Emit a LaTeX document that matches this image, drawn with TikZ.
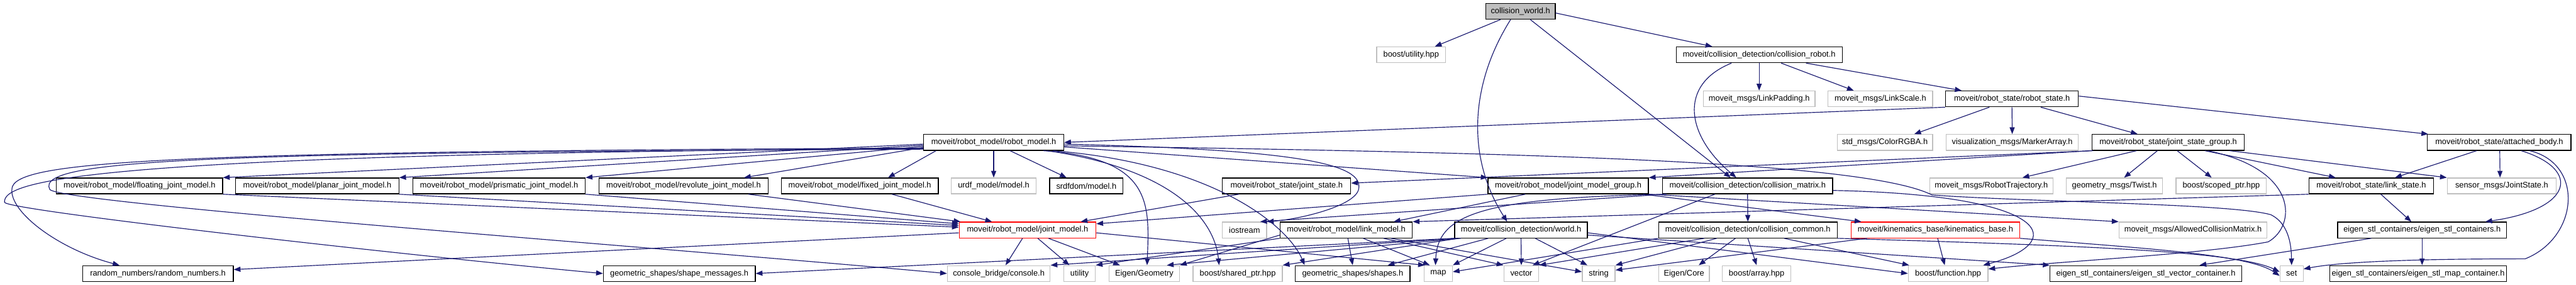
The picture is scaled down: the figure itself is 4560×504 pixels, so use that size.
\documentclass[tikz,border=0pt]{standalone}
\usepackage{fontspec}
\setmainfont{Liberation Sans}
\usetikzlibrary{arrows.meta}
\definecolor{edgeblue}{HTML}{191970}
\definecolor{greyb}{HTML}{BFBFBF}
\begin{document}
\begin{tikzpicture}[x=1pt,y=-1pt,
  nb/.style={draw=black, line width=1.4pt, fill=white, minimum height=28pt, inner sep=0pt, font={\fontsize{14.3}{17}\selectfont}, text=black},
  nx/.style={nb, draw=greyb},
  nred/.style={nb, draw=red},
  nroot/.style={nb, fill=greyb},
  edg/.style={draw=edgeblue, line width=1.3pt, -{Triangle[length=12pt,width=9pt]}}
]
\useasboundingbox (0,0) rectangle (4560,504);
% row 1
\node[nroot, minimum width=123pt] (cw) at (2691.5,20) {collision\_world.h};
% row 2
\node[nx, minimum width=122pt] (bu) at (2498,97) {boost/utility.hpp};
\node[nb, minimum width=294pt] (cr) at (3114,97) {moveit/collision\_detection/collision\_robot.h};
% row 3
\node[nx, minimum width=198pt] (lp) at (3114,175) {moveit\_msgs/LinkPadding.h};
\node[nx, minimum width=185pt] (ls) at (3328.5,175) {moveit\_msgs/LinkScale.h};
\node[nb, minimum width=235pt] (rs) at (3561.5,175) {moveit/robot\_state/robot\_state.h};
% row 4
\node[nb, minimum width=248pt] (rm) at (1759,252) {moveit/robot\_model/robot\_model.h};
\node[nx, minimum width=169pt] (crgba) at (3336.5,252) {std\_msgs/ColorRGBA.h};
\node[nx, minimum width=234pt] (ma) at (3562,252) {visualization\_msgs/MarkerArray.h};
\node[nb, minimum width=270pt] (jsg) at (3838,252) {moveit/robot\_state/joint\_state\_group.h};
\node[nb, minimum width=254pt] (ab) at (4424,252) {moveit/robot\_state/attached\_body.h};
% row 5
\node[nb, minimum width=294pt] (fl) at (247,329) {moveit/robot\_model/floating\_joint\_model.h};
\node[nb, minimum width=289pt] (pl) at (561.5,329) {moveit/robot\_model/planar\_joint\_model.h};
\node[nb, minimum width=305pt] (pr) at (883.5,329) {moveit/robot\_model/prismatic\_joint\_model.h};
\node[nb, minimum width=300pt] (rv) at (1210,329) {moveit/robot\_model/revolute\_joint\_model.h};
\node[nb, minimum width=278pt] (fx) at (1522,329) {moveit/robot\_model/fixed\_joint\_model.h};
\node[nx, minimum width=150pt] (ur) at (1759,329) {urdf\_model/model.h};
\node[nb, minimum width=130pt] (sr) at (1923,329) {srdfdom/model.h};
\node[nb, minimum width=227pt] (js) at (2277.5,329) {moveit/robot\_state/joint\_state.h};
\node[nb, minimum width=284pt] (jmg) at (2776,329) {moveit/robot\_model/joint\_model\_group.h};
\node[nb, minimum width=301pt] (cm) at (3093.5,329) {moveit/collision\_detection/collision\_matrix.h};
\node[nx, minimum width=218pt] (rt) at (3525,329) {moveit\_msgs/RobotTrajectory.h};
\node[nx, minimum width=170pt] (tw) at (3743,329) {geometry\_msgs/Twist.h};
\node[nx, minimum width=160pt] (sp) at (3932,329) {boost/scoped\_ptr.hpp};
\node[nb, minimum width=221pt] (lst) at (4197.5,329) {moveit/robot\_state/link\_state.h};
\node[nx, minimum width=193pt] (jst) at (4428.5,329) {sensor\_msgs/JointState.h};
% row 6
\node[nred, minimum width=242pt] (jm) at (1819,407) {moveit/robot\_model/joint\_model.h};
\node[nx, minimum width=78pt] (io) at (2203,407) {iostream};
\node[nb, minimum width=234pt] (lm) at (2383,407) {moveit/robot\_model/link\_model.h};
\node[nb, minimum width=235pt] (wd) at (2692.5,407) {moveit/collision\_detection/world.h};
\node[nb, minimum width=316pt] (cc) at (3094,407) {moveit/collision\_detection/collision\_common.h};
\node[nred, minimum width=298pt] (kb) at (3426,407) {moveit/kinematics\_base/kinematics\_base.h};
\node[nx, minimum width=262pt] (acm) at (3882,407) {moveit\_msgs/AllowedCollisionMatrix.h};
\node[nb, minimum width=299pt] (esc) at (4287.5,407) {eigen\_stl\_containers/eigen\_stl\_containers.h};
% row 7
\node[nb, minimum width=267pt] (rn) at (279.5,484) {random\_numbers/random\_numbers.h};
\node[nb, minimum width=269pt] (sm) at (1202.5,484) {geometric\_shapes/shape\_messages.h};
\node[nx, minimum width=182pt] (con) at (1768,484) {console\_bridge/console.h};
\node[nx, minimum width=56pt] (ut) at (1911,484) {utility};
\node[nx, minimum width=125pt] (eg) at (2025.5,484) {Eigen/Geometry};
\node[nx, minimum width=158pt] (shp) at (2191,484) {boost/shared\_ptr.hpp};
\node[nb, minimum width=203pt] (sh) at (2394.5,484) {geometric\_shapes/shapes.h};
\node[nx, minimum width=50pt] (mp) at (2546,484) {map};
\node[nx, minimum width=62pt] (vc) at (2693,484) {vector};
\node[nx, minimum width=58pt] (st) at (2830,484) {string};
\node[nx, minimum width=90pt] (ec) at (2981,484) {Eigen/Core};
\node[nx, minimum width=121pt] (ba) at (3109.5,484) {boost/array.hpp};
\node[nx, minimum width=141pt] (fn) at (3448.5,484) {boost/function.hpp};
\node[nb, minimum width=339pt] (evc) at (3798.5,484) {eigen\_stl\_containers/eigen\_stl\_vector\_container.h};
\node[nx, minimum width=41pt] (set) at (4056.5,484) {set};
\node[nb, minimum width=313pt] (emc) at (4280.5,484) {eigen\_stl\_containers/eigen\_stl\_map\_container.h};

% collision_world
\draw[edg] ([xshift=-35.5pt]cw.south) -- ([xshift=42pt]bu.north);
\draw[edg] ([yshift=-3pt]cw.east) -- ([xshift=-83pt]cr.north);
\draw[edg] ([xshift=-17.5pt]cw.south) .. controls (2599,154) and (2598,283) .. ([xshift=-24.5pt]wd.north);
\draw[edg] ([xshift=17.5pt]cw.south) -- ([xshift=-30pt]cm.north);
% collision_robot
\draw[edg] ([xshift=-49pt]cr.south) .. controls (2970,150) and (2985,240) .. ([xshift=-20pt]cm.north);
\draw[edg] (cr.south) -- (lp.north);
\draw[edg] ([xshift=39pt]cr.south) -- ([xshift=-47pt]ls.north);
\draw[edg] ([xshift=83pt]cr.south) -- ([xshift=-89pt]rs.north);
% robot_state
\draw[edg] (rs.south west) -- (rm.east);
\draw[edg] ([xshift=-40pt]rs.south) -- ([xshift=52pt]crgba.north);
\draw[edg] (rs.south) -- (ma.north);
\draw[edg] ([xshift=51pt]rs.south) -- ([xshift=-54pt]jsg.north);
\draw[edg] ([yshift=5pt]rs.east) -- ([xshift=2pt]ab.north west);
% robot_model
\draw[edg] ([yshift=-3pt]rm.west) -- (fl.north east);
\draw[edg] ([yshift=-5pt]rm.west) -- (pl.north east);
\draw[edg] ([yshift=-7pt]rm.west) -- (pr.north east);
\draw[edg] ([yshift=-9pt]rm.west) -- ([xshift=107pt]rv.north);
\draw[edg] ([xshift=-102pt]rm.south) -- ([xshift=50pt]fx.north);
\draw[edg] (rm.south) -- (ur.north);
\draw[edg] ([xshift=29pt]rm.south) -- ([xshift=-35pt]sr.north);
\draw[edg] ([yshift=-8pt]rm.east) -- (jmg.north west);
\draw[edg] ([yshift=-10pt]rm.west) .. controls (300,268) and (40,285) .. (22,330) .. controls (10,370) and (100,440) .. ([xshift=-68pt]rn.north);
\draw[edg] ([yshift=-11pt]rm.west) .. controls (150,272) and (5,320) .. (8,358) .. controls (12,372) and (700,450) .. (sm.west);
\draw[edg] ([yshift=-12pt]rm.west) .. controls (400,270) and (60,280) .. (88,335) .. controls (100,360) and (1200,440) .. (con.west);
\draw[edg] ([xshift=88pt]rm.south) .. controls (2040,280) and (2035,360) .. ([xshift=5pt]eg.north);
\draw[edg] ([xshift=95pt]rm.south) .. controls (2080,300) and (2150,390) .. ([xshift=-33pt]shp.north);
\draw[edg] ([xshift=105pt]rm.south) .. controls (2150,290) and (2280,400) .. ([xshift=-85pt]sh.north);
\draw[edg] ([yshift=-6pt]rm.east) .. controls (2700,270) and (3300,285) .. (3420,345) .. controls (3600,358) and (3950,360) .. (4020,380) .. controls (4050,395) and (4056,430) .. (set.north);
\draw[edg] ([yshift=-3pt]rm.east) .. controls (2300,265) and (2415,290) .. (2405,335) .. controls (2398,365) and (2300,388) .. (io.north east);
% joint models -> joint_model
\draw[edg] (fl.south east) -- ([yshift=5pt]jm.west);
\draw[edg] (pl.south east) -- ([yshift=8pt]jm.west);
\draw[edg] (pr.south east) -- ([yshift=11pt]jm.west);
\draw[edg] ([xshift=115pt]rv.south) -- ([xshift=3pt]jm.north west);
\draw[edg] ([xshift=57pt]fx.south) -- ([xshift=-63pt]jm.north);
\draw[edg] ([xshift=-84.5pt]js.south) -- ([xshift=94pt]jm.north);
% joint_model
\draw[edg] ([xshift=-9pt]jm.south) -- ([xshift=12pt]con.north);
\draw[edg] ([xshift=18pt]jm.south) -- ([xshift=-18pt]ut.north);
\draw[edg] ([xshift=37pt]jm.south) -- ([xshift=-43pt]eg.north);
\draw[edg] ([yshift=-5pt]jm.west) -- ([yshift=7pt]rn.east);
\draw[edg] ([yshift=-5pt]jm.east) -- ([xshift=2pt]mp.north west);
% joint_model_group
\draw[edg] ([xshift=-76pt]jmg.south) -- ([xshift=84pt]lm.north);
\draw[edg] (jmg.south west) -- ([yshift=11pt]jm.east);
\draw[edg] ([xshift=-10pt]jmg.south east) -- ([xshift=-131pt]kb.north);
\draw[edg] (jmg.south east) -- (acm.north west);
% link_model
\draw[edg] ([xshift=3pt]lm.south) -- (sh.north);
\draw[edg] ([xshift=30pt]lm.south) -- ([xshift=-15pt]mp.north);
\draw[edg] ([xshift=66pt]lm.south) -- (vc.north west);
\draw[edg] ([xshift=79pt]lm.south) -- ([yshift=3pt]st.west);
\draw[edg] ([yshift=-9pt]lm.west) -- (eg.north east);
\draw[edg] (lm.south west) -- (ut.north east);
% world
\draw[edg] ([xshift=-58pt]wd.south) -- ([xshift=62pt]sh.north);
\draw[edg] ([xshift=-26pt]wd.south) -- (mp.north east);
\draw[edg] (wd.south) -- (vc.north);
\draw[edg] ([xshift=25pt]wd.south) -- ([xshift=-20pt]st.north);
\draw[edg] (wd.south west) -- (sm.east);
\draw[edg] ([xshift=4pt]wd.south west) -- (con.north east);
\draw[edg] ([xshift=8pt]wd.south west) -- (shp.north east);
\draw[edg] ([xshift=12pt]wd.south west) -- ([xshift=40pt]eg.north);
\draw[edg] ([yshift=-5pt]wd.east) -- (fn.west);
\draw[edg] ([yshift=-9pt]wd.east) -- (evc.north west);
% collision_common
\draw[edg] ([xshift=-22pt]cc.south) -- ([xshift=26pt]ec.north);
\draw[edg] (cc.south) -- (ba.north);
\draw[edg] ([xshift=64pt]cc.south) -- ([xshift=-69pt]fn.north);
\draw[edg] ([xshift=-55pt]cc.south) -- (st.north east);
\draw[edg] ([xshift=-77pt]cc.south) -- (vc.north east);
\draw[edg] (cc.south west) -- ([yshift=3pt]mp.east);
\draw[edg] (cc.south east) .. controls (3700,435) and (3960,445) .. ([yshift=3pt]set.west);
% collision_matrix
\draw[edg] (cm.south) -- (cc.north);
\draw[edg] ([yshift=-8pt]cm.east) .. controls (3640,345) and (3660,430) .. ([xshift=62pt]fn.north);
\draw[edg] ([xshift=4pt]cm.south west) -- ([xshift=-12pt]io.north east);
\draw[edg] ([xshift=8pt]cm.south west) .. controls (2620,350) and (2545,380) .. ([xshift=-5pt]mp.north);
\draw[edg] ([xshift=-58pt]cm.south) -- ([xshift=20pt]vc.north);
% kinematics_base
\draw[edg] ([xshift=4pt]kb.south) -- ([xshift=-6pt]fn.north);
\draw[edg] ([xshift=-121pt]kb.south) -- ([yshift=6pt]st.east);
\draw[edg] (kb.south east) .. controls (3800,440) and (3980,450) .. ([yshift=-4pt]set.west);
% joint_state_group
\draw[edg] ([xshift=3pt]jsg.south west) -- ([yshift=5pt]js.east);
\draw[edg] ([xshift=-2pt]jsg.south west) -- (jmg.north east);
\draw[edg] ([xshift=-56pt]jsg.south) -- ([xshift=55pt]rt.north);
\draw[edg] ([xshift=-19pt]jsg.south) -- ([xshift=17pt]tw.north);
\draw[edg] ([xshift=16pt]jsg.south) -- ([xshift=-17pt]sp.north);
\draw[edg] ([xshift=65pt]jsg.south) -- ([xshift=-63pt]lst.north);
\draw[edg] ([xshift=109pt]jsg.south) -- (jst.north west);
\draw[edg] ([xshift=70pt]jsg.south) .. controls (4070,300) and (4065,400) .. (4015,428) .. controls (3900,450) and (3650,462) .. ([yshift=8pt]fn.east);
% attached_body
\draw[edg] ([xshift=-40pt]ab.south) -- ([xshift=42pt]lst.north);
\draw[edg] ([xshift=1pt]ab.south) -- ([xshift=-3pt]jst.north);
\draw[edg] ([xshift=39pt]ab.south) .. controls (4570,300) and (4555,370) .. ([xshift=112pt]esc.north);
\draw[edg] ([xshift=54pt]ab.south) .. controls (4575,290) and (4565,420) .. (4470,458) .. controls (4300,458) and (4150,462) .. ([yshift=8pt]set.east);
% link_state
\draw[edg] ([xshift=17pt]lst.south) -- ([xshift=-19pt]esc.north);
\draw[edg] (lst.south west) -- (lm.north east);
% eigen_stl_containers
\draw[edg] ([xshift=-90pt]esc.south) -- ([xshift=95pt]evc.north);
\draw[edg] (esc.south) -- ([xshift=7pt]emc.north);
\end{tikzpicture}
\end{document}
